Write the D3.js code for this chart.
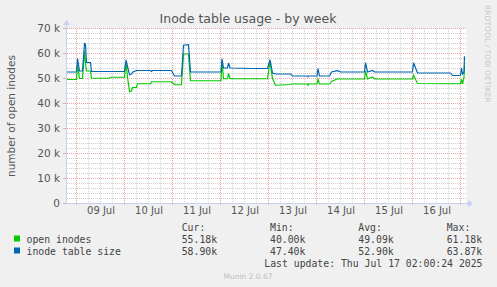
<!DOCTYPE html>
<html>
<head>
<meta charset="utf-8">
<script src="https://cdn.jsdelivr.net/npm/d3@7/dist/d3.min.js"></script>
<style>
  body { margin: 0; background: #f0f0f0; }
  svg { display: block; font-family: "DejaVu Sans", sans-serif; }
  .mono { font-family: "DejaVu Sans Mono", monospace; }
</style>
</head>
<body>
<div id="chart"></div>
<script>

// hours since 2025-07-08 19:00
const hours = [0, 5, 5.5, 6.5, 8, 9, 9.5, 10, 12, 12.5, 21, 22, 29, 29.75, 30.5, 31.5, 32.5, 33, 35, 35.5,
               42, 42.5, 43, 52.5, 54, 57.5, 58.5, 61, 62, 77.25, 77.75, 78.5, 80.5, 81, 81.75, 93,
               100.5, 101.75, 103, 104.5, 112, 113, 120.5, 120.75, 121, 125.25, 125.75, 126.5, 131.5,
               132.5, 135.5, 137, 149, 149.5, 150.5, 153, 154, 173, 173.5, 175.5, 192, 193, 197, 197.5,
               198, 198.75, 199];

// thousands
const openInodes = [49.6, 49.6, 55.5, 50.0, 50.0, 61.0, 56.0, 53.0, 53.0, 50.1, 50.1, 50.5, 50.5, 56.5, 50.5,
                    44.7, 45.0, 46.4, 46.4, 47.9, 47.9, 48.7, 48.7, 48.7, 47.5, 47.5, 59.8, 59.8, 49.1, 49.1,
                    56.8, 49.9, 49.9, 52.0, 49.9, 49.9, 49.9, 56.8, 50.0, 47.3, 47.6, 47.8, 47.8, 47.3, 47.8,
                    47.8, 49.7, 47.8, 47.8, 48.8, 49.9, 49.8, 49.8, 53.0, 49.8, 50.6, 49.8, 49.8, 51.3, 48.0,
                    47.9, 47.9, 47.9, 49.6, 47.9, 50.4, 55.2];

const tableSize = [52.6, 52.6, 58.0, 53.0, 53.0, 64.0, 63.6, 56.4, 56.4, 52.8, 52.8, 52.8, 52.8, 57.4, 54.8,
                   51.5, 51.8, 52.5, 53.2, 53.2, 53.2, 52.8, 53.2, 53.2, 51.0, 51.0, 63.3, 63.5, 52.6, 52.6,
                   57.9, 54.2, 54.2, 56.2, 54.2, 54.0, 54.0, 57.5, 52.2, 51.8, 51.8, 51.0, 51.0, 50.7, 51.0,
                   51.0, 54.0, 51.0, 51.0, 52.6, 53.1, 52.6, 52.6, 56.3, 52.6, 53.2, 52.6, 52.6, 56.3, 52.2,
                   52.2, 51.2, 51.2, 54.2, 51.8, 52.5, 58.9];

const yTicks = [0, 10000, 20000, 30000, 40000, 50000, 60000, 70000];
const yTickLabels = ["0", "10 k", "20 k", "30 k", "40 k", "50 k", "60 k", "70 k"];
const dayLabels = ["09 Jul", "10 Jul", "11 Jul", "12 Jul", "13 Jul", "14 Jul", "15 Jul", "16 Jul"];

const seriesNames = ["open inodes", "inode table size"];
const seriesColors = ["#00cc00", "#0066b3"];
const curVals = ["55.18k", "58.90k"];
const minVals = ["40.00k", "47.40k"];
const avgVals = ["49.09k", "52.90k"];
const maxVals = ["61.18k", "63.87k"];

const width = 497, height = 287;
const start = new Date(2025, 6, 8, 19, 0);
const end = new Date(2025, 6, 17, 3, 0);
const hourToDate = h => new Date(start.getTime() + h * 3600e3);

const x = d3.scaleTime().domain([start, end]).range([66.5, 466.5]);
const y = d3.scaleLinear().domain([0, 70000]).range([203.5, 28.5]);

const svg = d3.select('#chart').append('svg')
    .attr('width', width)
    .attr('height', height);

svg.append('rect').attr('width', width).attr('height', height).attr('fill', '#f0f0f0');
svg.append('rect')
    .attr('x', 66.5).attr('y', 28.5)
    .attr('width', 400).attr('height', 175)
    .attr('fill', '#ffffff');

// grid
const grid = svg.append('g').attr('shape-rendering', 'crispEdges');
const minorY = d3.range(0, 70001, 2000).filter(v => v % 10000 !== 0);
grid.selectAll('line.ymin').data(minorY).join('line')
    .attr('x1', 66.5).attr('x2', 466.5)
    .attr('y1', d => y(d)).attr('y2', d => y(d))
    .attr('stroke', '#cfcfcf').attr('stroke-dasharray', '1,1');

const minorX = d3.timeHour.every(6).range(start, end).filter(d => d.getHours() !== 0);
grid.selectAll('line.xmin').data(minorX).join('line')
    .attr('x1', d => x(d)).attr('x2', d => x(d))
    .attr('y1', 28.5).attr('y2', 203.5)
    .attr('stroke', '#cfcfcf').attr('stroke-dasharray', '1,1');

grid.selectAll('line.ymaj').data(yTicks.slice(1)).join('line')
    .attr('x1', 66.5).attr('x2', 466.5)
    .attr('y1', d => y(d)).attr('y2', d => y(d))
    .attr('stroke', '#eaa6a6').attr('stroke-dasharray', '1,1');

const majorX = d3.timeDay.range(start, end);
grid.selectAll('line.xmaj').data(majorX).join('line')
    .attr('x1', d => x(d)).attr('x2', d => x(d))
    .attr('y1', 28.5).attr('y2', 206)
    .attr('stroke', '#eaa6a6').attr('stroke-dasharray', '1,1');

// y tick marks
grid.selectAll('line.ytk').data(yTicks).join('line')
    .attr('x1', 63).attr('x2', 66.5)
    .attr('y1', d => y(d)).attr('y2', d => y(d))
    .attr('stroke', '#eaa6a6');

// series
const line = d3.line()
    .x(d => x(hourToDate(d[0])))
    .y(d => y(d[1] * 1000));

[openInodes, tableSize].forEach((vals, i) => {
    svg.append('path')
        .datum(hours.map((h, j) => [h, vals[j]]))
        .attr('fill', 'none')
        .attr('stroke', seriesColors[i])
        .attr('stroke-width', 1.2)
        .attr('d', line);
});

// axes lines with arrows
const axisColor = '#c8cff5';
svg.append('line').attr('x1', 66.5).attr('x2', 66.5).attr('y1', 204).attr('y2', 24)
    .attr('stroke', axisColor);
svg.append('path').attr('d', 'M63,25 L66.5,20 L70,25 Z').attr('fill', axisColor);
svg.append('line').attr('x1', 66).attr('x2', 469).attr('y1', 203.5).attr('y2', 203.5)
    .attr('stroke', axisColor);
svg.append('path').attr('d', 'M468,200 L473,203.5 L468,207 Z').attr('fill', axisColor);

// tick labels
const yAxis = svg.append('g')
    .attr('transform', 'translate(60,0)')
    .call(d3.axisLeft(y).tickValues(yTicks).tickSize(0).tickPadding(0)
        .tickFormat((d, i) => yTickLabels[i]));
yAxis.select('.domain').remove();
yAxis.selectAll('text').attr('fill', '#555').attr('font-size', 10.5)
    .attr('font-family', '"DejaVu Sans", sans-serif');

const labelDates = dayLabels.map((d, i) => new Date(2025, 6, 9 + i, 12));
const xAxis = svg.append('g')
    .attr('transform', 'translate(0,207)')
    .call(d3.axisBottom(x).tickValues(labelDates).tickSize(0).tickPadding(0)
        .tickFormat((d, i) => dayLabels[i]));
xAxis.select('.domain').remove();
xAxis.selectAll('text').attr('fill', '#555').attr('font-size', 10)
    .attr('font-family', '"DejaVu Sans", sans-serif');

// title and axis title
svg.append('text')
    .attr('x', 248).attr('y', 23)
    .attr('text-anchor', 'middle')
    .attr('font-size', 12.5)
    .attr('fill', '#555')
    .text('Inode table usage - by week');

svg.append('text')
    .attr('transform', 'translate(15,116) rotate(-90)')
    .attr('text-anchor', 'middle')
    .attr('font-size', 10.5)
    .attr('fill', '#555')
    .text('number of open inodes');

svg.append('text')
    .attr('transform', 'translate(485,5) rotate(90)')
    .attr('font-size', 7.6)
    .attr('fill', '#c8c8c8')
    .text('RRDTOOL / TOBI OETIKER');

// legend
const legend = svg.append('g').attr('class', 'mono')
    .attr('font-size', 9.8).attr('fill', '#444');
const cols = [181.7, 270, 358.3, 446.7];
['Cur:', 'Min:', 'Avg:', 'Max:'].forEach((h, i) => {
    legend.append('text').attr('x', cols[i]).attr('y', 230.5).text(h);
});
const columns = [curVals, minVals, avgVals, maxVals];
seriesNames.forEach((name, i) => {
    const yy = 242.5 + i * 12;
    legend.append('rect')
        .attr('x', 14).attr('y', yy - 7).attr('width', 6).attr('height', 6)
        .attr('fill', seriesColors[i]);
    legend.append('text').attr('x', 26.5).attr('y', yy).text(name);
    columns.forEach((c, k) => {
        legend.append('text').attr('x', cols[k]).attr('y', yy).text(c[i]);
    });
});
legend.append('text').attr('x', 482.5).attr('y', 266.5)
    .attr('text-anchor', 'end')
    .text('Last update: Thu Jul 17 02:00:24 2025');

svg.append('text')
    .attr('x', 248).attr('y', 279)
    .attr('text-anchor', 'middle')
    .attr('font-size', 7.5)
    .attr('fill', '#bdbdbd')
    .text('Munin 2.0.67');

</script>
</body>
</html>
